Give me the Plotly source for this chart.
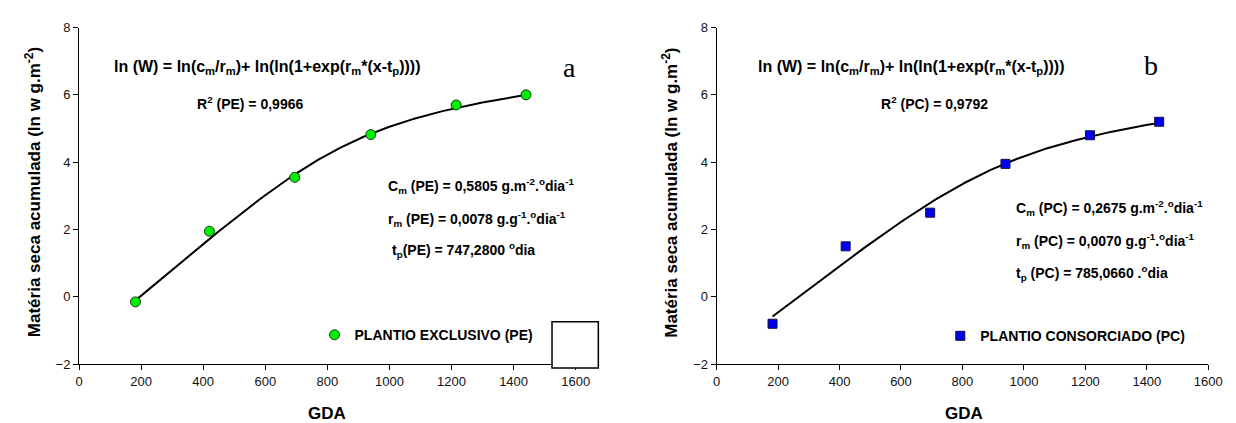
import numpy as np
import plotly.graph_objects as go

W, H = 1236, 423

# ---- data ----
gda = [182, 420, 695, 940, 1215, 1440]
pe_values = [-0.15, 1.95, 3.55, 4.82, 5.70, 6.00]
pc_values = [-0.80, 1.50, 2.50, 3.95, 4.80, 5.20]

# fitted model parameters (shown on the chart)
pe_cm, pe_rm, pe_tp = 0.5805, 0.0078, 747.2800
pc_cm, pc_rm, pc_tp = 0.2675, 0.0070, 785.0660

x_ticks = [0, 200, 400, 600, 800, 1000, 1200, 1400, 1600]
y_ticks = [-2, 0, 2, 4, 6, 8]


def model(x, cm, rm, tp):
    x = np.asarray(x, dtype=float)
    return np.log(cm / rm) + np.log(np.log(1 + np.exp(rm * (x - tp))))


xfit = np.linspace(gda[0], gda[-1], 200)

FONT = "Arial, Liberation Sans, sans-serif"


def px(x):
    return x / W


def py(y):
    return 1 - y / H


fig = go.Figure()

fig.add_trace(go.Scatter(x=xfit, y=model(xfit, pe_cm, pe_rm, pe_tp), mode="lines",
                         line=dict(color="black", width=2), showlegend=False,
                         xaxis="x", yaxis="y"))
fig.add_trace(go.Scatter(x=gda, y=pe_values, mode="markers", name="PLANTIO EXCLUSIVO (PE)",
                         marker=dict(symbol="circle", size=10, color="#00ee00",
                                     line=dict(color="#1a3a1a", width=1)),
                         xaxis="x", yaxis="y", legend="legend"))
fig.add_trace(go.Scatter(x=xfit, y=model(xfit, pc_cm, pc_rm, pc_tp), mode="lines",
                         line=dict(color="black", width=2), showlegend=False,
                         xaxis="x2", yaxis="y2"))
fig.add_trace(go.Scatter(x=gda, y=pc_values, mode="markers", name="PLANTIO CONSORCIADO (PC)",
                         marker=dict(symbol="square", size=9, color="#0000ee",
                                     line=dict(color="#101040", width=1)),
                         xaxis="x2", yaxis="y2", legend="legend2"))

ydom = [py(362), py(13)]
axis_common = dict(showline=True, linecolor="black", linewidth=1, ticks="outside",
                   ticklen=5, tickcolor="black", showgrid=False, zeroline=False,
                   tickfont=dict(family=FONT, size=13, color="#111"))

fig.update_layout(
    width=W, height=H,
    margin=dict(l=0, r=0, t=0, b=0),
    paper_bgcolor="white", plot_bgcolor="white",
    font=dict(family=FONT, color="black"),
    xaxis=dict(domain=[px(68), px(572)], range=[0, 1600], tickvals=x_ticks,
               anchor="y", **axis_common),
    yaxis=dict(domain=ydom, range=[-2, 8], tickvals=y_ticks, anchor="x", **axis_common),
    xaxis2=dict(domain=[px(715), px(1214)], range=[0, 1600], tickvals=x_ticks,
                anchor="y2", **axis_common),
    yaxis2=dict(domain=ydom, range=[-2, 8], tickvals=y_ticks, anchor="x2", **axis_common),
    legend=dict(x=px(307), y=py(332), xanchor="left", yanchor="middle",
                bgcolor="rgba(0,0,0,0)", borderwidth=0,
                font=dict(family=FONT, size=14, color="black", weight="bold")),
    legend2=dict(x=px(942), y=py(333), xanchor="left", yanchor="middle",
                 bgcolor="rgba(0,0,0,0)", borderwidth=0,
                 font=dict(family=FONT, size=14, color="black", weight="bold")),
)

# empty box in the left panel
fig.add_shape(type="rect", xref="paper", yref="paper",
              x0=px(548), x1=px(595), y0=py(366), y1=py(318),
              line=dict(color="black", width=1.5), fillcolor="white", layer="above")


def ann(x, y, text, size=12, bold=True, family=FONT, xanchor="left", angle=0):
    fig.add_annotation(x=px(x), y=py(y), xref="paper", yref="paper", text=text,
                       showarrow=False, xanchor=xanchor, yanchor="middle", textangle=angle,
                       font=dict(family=family, size=size, color="black",
                                 weight="bold" if bold else "normal"))


formula = "ln (W) = ln(c<sub>m</sub>/r<sub>m</sub>)+ ln(ln(1+exp(r<sub>m</sub>*(x-t<sub>p</sub>))))"
SERIF = "Liberation Serif, Times New Roman, serif"

# left panel texts
ann(101, 54, formula, size=16)
ann(566, 54, "a", size=28, bold=False, family=SERIF, xanchor="center")
ann(186, 91, "R<sup>2</sup> (PE) = 0,9966", size=14)
ann(380, 177, "C<sub>m</sub> (PE) = 0,5805 g.m<sup>-2</sup>.<sup>o</sup>dia<sup>-1</sup>", size=14)
ann(380, 211, "r<sub>m</sub> (PE) = 0,0078 g.g<sup>-1</sup>.<sup>o</sup>dia<sup>-1</sup>", size=14)
ann(384, 244, "t<sub>p</sub>(PE) = 747,2800 <sup>o</sup>dia", size=14)

# right panel texts
ann(755, 54, formula, size=16)
ann(1156, 52, "b", size=28, bold=False, family=SERIF, xanchor="center")
ann(880, 91, "R<sup>2</sup> (PC) = 0,9792", size=14)
ann(1017, 200, "C<sub>m</sub> (PC) = 0,2675 g.m<sup>-2</sup>.<sup>o</sup>dia<sup>-1</sup>", size=14)
ann(1017, 234, "r<sub>m</sub> (PC) = 0,0070 g.g<sup>-1</sup>.<sup>o</sup>dia<sup>-1</sup>", size=14)
ann(1017, 268, "t<sub>p</sub> (PC) = 785,0660 .<sup>o</sup>dia", size=14)

# axis titles
ytitle = "Matéria seca acumulada (ln w g.m<sup>-2</sup>)"
ann(22, 184, ytitle, size=17, xanchor="center", angle=-90)
ann(668, 184, ytitle, size=17, xanchor="center", angle=-90)
ann(320, 413, "GDA", size=17, xanchor="center")
ann(966, 413, "GDA", size=17, xanchor="center")

fig.write_html("out.html")
